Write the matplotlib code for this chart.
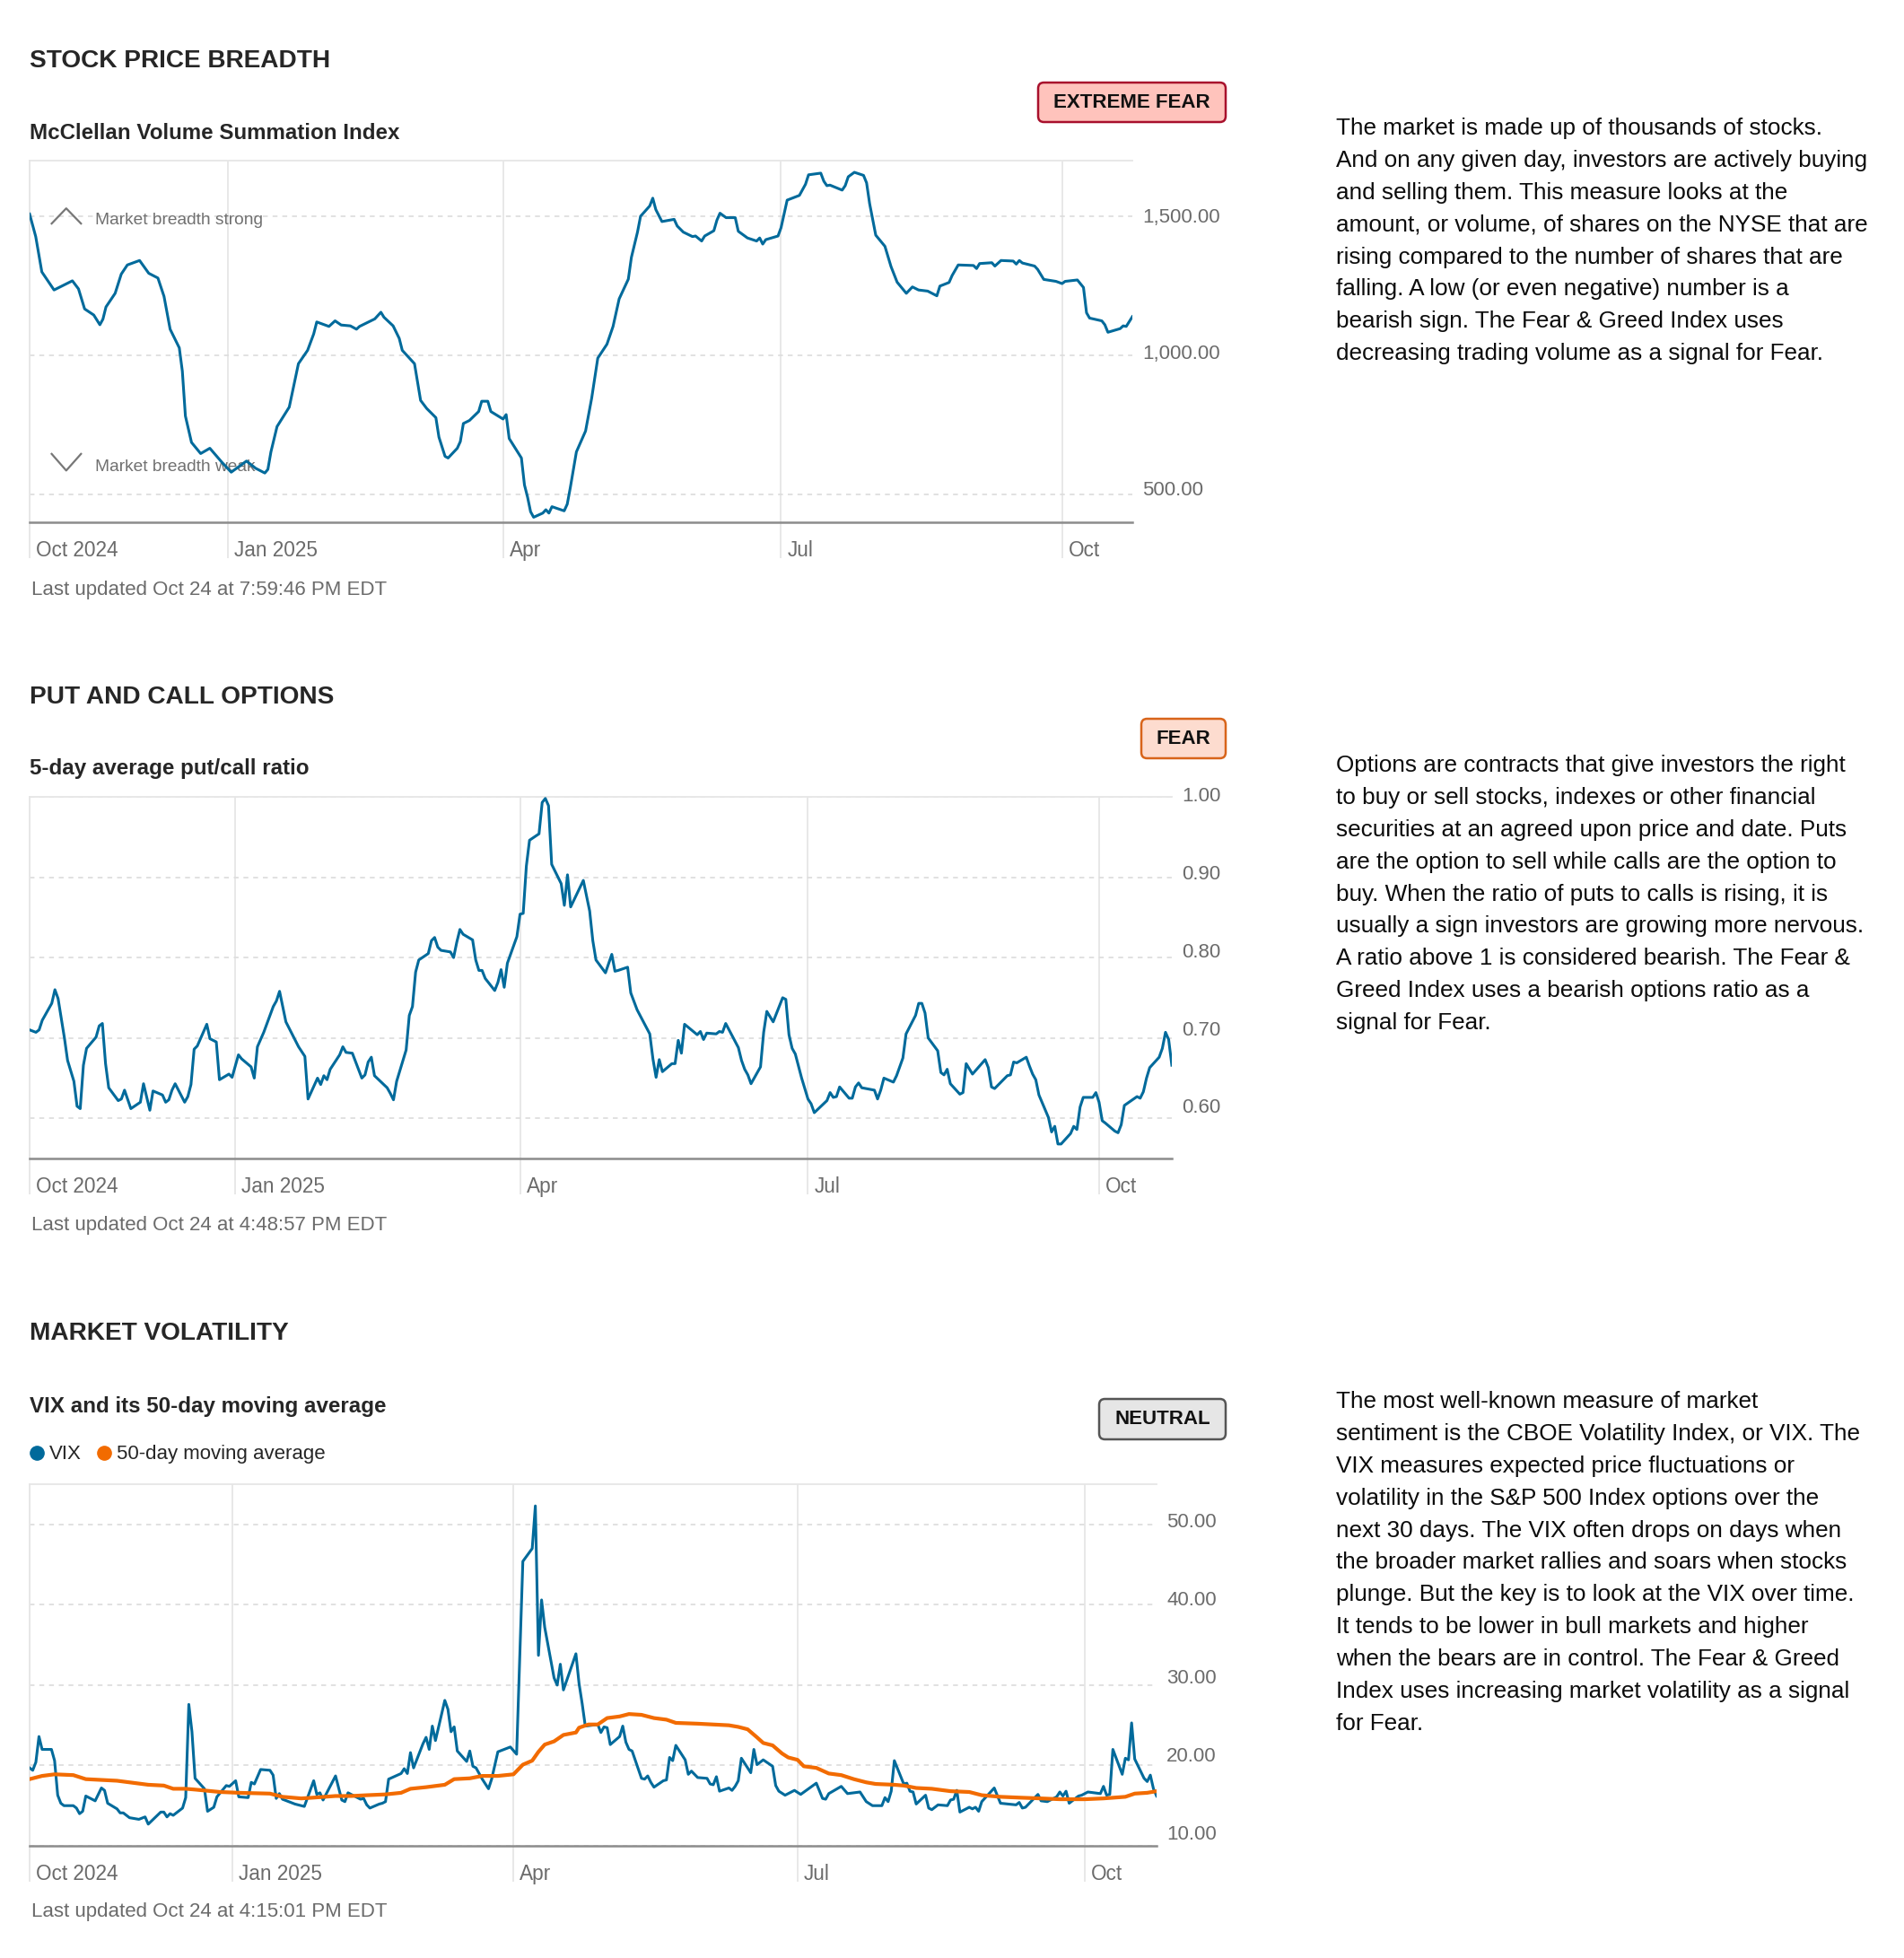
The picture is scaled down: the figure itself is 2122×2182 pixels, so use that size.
import matplotlib
matplotlib.use("Agg")
import matplotlib.pyplot as plt
import matplotlib.transforms as mtransforms
from matplotlib.patches import FancyBboxPatch
from matplotlib.lines import Line2D
from matplotlib.ticker import FuncFormatter
import pandas as pd

plt.rcParams['font.family'] = ['Liberation Sans', 'DejaVu Sans']

# ---- data ----
breadth_dates = [
    "2024-10-28", "2024-10-30", "2024-11-01", "2024-11-05", "2024-11-11", "2024-11-13", "2024-11-15",
    "2024-11-18", "2024-11-20", "2024-11-21", "2024-11-22", "2024-11-25", "2024-11-27", "2024-11-29",
    "2024-12-03", "2024-12-06", "2024-12-09", "2024-12-11", "2024-12-13", "2024-12-16", "2024-12-17",
    "2024-12-18", "2024-12-20", "2024-12-23", "2024-12-26", "2024-12-30", "2025-01-02", "2025-01-07",
    "2025-01-10", "2025-01-13", "2025-01-14", "2025-01-15", "2025-01-17", "2025-01-21", "2025-01-24",
    "2025-01-27", "2025-01-29", "2025-01-30", "2025-02-03", "2025-02-05", "2025-02-07", "2025-02-10",
    "2025-02-12", "2025-02-13", "2025-02-18", "2025-02-20", "2025-02-21", "2025-02-24", "2025-02-26",
    "2025-02-27", "2025-03-03", "2025-03-04", "2025-03-05", "2025-03-07", "2025-03-10", "2025-03-11",
    "2025-03-13", "2025-03-14", "2025-03-17", "2025-03-18", "2025-03-19", "2025-03-21", "2025-03-24",
    "2025-03-25", "2025-03-27", "2025-03-28", "2025-04-01", "2025-04-02", "2025-04-03", "2025-04-07",
    "2025-04-08", "2025-04-09", "2025-04-10", "2025-04-11", "2025-04-14", "2025-04-15", "2025-04-16",
    "2025-04-17", "2025-04-21", "2025-04-22", "2025-04-23", "2025-04-25", "2025-04-28", "2025-04-30",
    "2025-05-02", "2025-05-05", "2025-05-07", "2025-05-09", "2025-05-12", "2025-05-13", "2025-05-15",
    "2025-05-16", "2025-05-19", "2025-05-20", "2025-05-21", "2025-05-23", "2025-05-27", "2025-05-28",
    "2025-05-30", "2025-06-02", "2025-06-03", "2025-06-05", "2025-06-06", "2025-06-09", "2025-06-10",
    "2025-06-11", "2025-06-13", "2025-06-16", "2025-06-17", "2025-06-20", "2025-06-23", "2025-06-24",
    "2025-06-25", "2025-06-26", "2025-06-30", "2025-07-01", "2025-07-03", "2025-07-07", "2025-07-09",
    "2025-07-10", "2025-07-14", "2025-07-15", "2025-07-16", "2025-07-17", "2025-07-21", "2025-07-22",
    "2025-07-23", "2025-07-25", "2025-07-28", "2025-07-29", "2025-07-30", "2025-08-01", "2025-08-04",
    "2025-08-06", "2025-08-08", "2025-08-11", "2025-08-13", "2025-08-15", "2025-08-18", "2025-08-21",
    "2025-08-22", "2025-08-25", "2025-08-26", "2025-08-28", "2025-09-02", "2025-09-03", "2025-09-04",
    "2025-09-08", "2025-09-09", "2025-09-11", "2025-09-15", "2025-09-16", "2025-09-17", "2025-09-18",
    "2025-09-22", "2025-09-23", "2025-09-25", "2025-09-29", "2025-10-01", "2025-10-02", "2025-10-06",
    "2025-10-08", "2025-10-09", "2025-10-10", "2025-10-14", "2025-10-15", "2025-10-16", "2025-10-20",
    "2025-10-21", "2025-10-22", "2025-10-24",
]
breadth_values = [
    1508, 1427, 1300, 1235, 1268, 1239, 1167,
    1145, 1110, 1130, 1174, 1223, 1292, 1325,
    1341, 1295, 1278, 1212, 1094, 1027, 943,
    782, 687, 647, 666, 615, 580, 620,
    594, 577, 590, 653, 744, 814, 970,
    1018, 1077, 1120, 1104, 1124, 1109, 1106,
    1094, 1104, 1131, 1155, 1137, 1106, 1061,
    1018, 970, 905, 838, 809, 776, 706,
    637, 631, 666, 690, 755, 766, 798,
    835, 835, 798, 771, 787, 701, 631,
    534, 491, 438, 418, 433, 445, 433,
    456, 441, 465, 524, 653, 728, 846,
    990, 1040, 1104, 1203, 1274, 1352, 1443,
    1500, 1537, 1565, 1524, 1481, 1489, 1465,
    1443, 1427, 1429, 1411, 1429, 1448, 1486,
    1511, 1495, 1495, 1446, 1422, 1411, 1422,
    1400, 1416, 1429, 1459, 1558, 1575, 1615,
    1649, 1655, 1626, 1610, 1612, 1594, 1610,
    1642, 1658, 1647, 1620, 1545, 1432, 1392,
    1319, 1263, 1223, 1246, 1235, 1231, 1214,
    1249, 1262, 1287, 1325, 1323, 1312, 1330,
    1333, 1321, 1341, 1339, 1328, 1341, 1332,
    1321, 1309, 1273, 1266, 1258, 1266, 1271,
    1244, 1153, 1134, 1124, 1110, 1083, 1096,
    1106, 1104, 1139,
]

putcall_dates = [
    "2024-10-28", "2024-10-30", "2024-10-31", "2024-11-01", "2024-11-04", "2024-11-05", "2024-11-06",
    "2024-11-08", "2024-11-09", "2024-11-11", "2024-11-12", "2024-11-13", "2024-11-14", "2024-11-15",
    "2024-11-18", "2024-11-19", "2024-11-20", "2024-11-21", "2024-11-22", "2024-11-25", "2024-11-26",
    "2024-11-27", "2024-11-29", "2024-12-02", "2024-12-03", "2024-12-05", "2024-12-06", "2024-12-09",
    "2024-12-10", "2024-12-11", "2024-12-12", "2024-12-13", "2024-12-16", "2024-12-17", "2024-12-18",
    "2024-12-19", "2024-12-20", "2024-12-23", "2024-12-24", "2024-12-26", "2024-12-27", "2024-12-30",
    "2024-12-31", "2025-01-02", "2025-01-03", "2025-01-06", "2025-01-07", "2025-01-08", "2025-01-10",
    "2025-01-13", "2025-01-14", "2025-01-15", "2025-01-17", "2025-01-21", "2025-01-23", "2025-01-24",
    "2025-01-27", "2025-01-28", "2025-01-29", "2025-01-30", "2025-01-31", "2025-02-03", "2025-02-04",
    "2025-02-05", "2025-02-07", "2025-02-10", "2025-02-11", "2025-02-12", "2025-02-13", "2025-02-14",
    "2025-02-18", "2025-02-19", "2025-02-20", "2025-02-21", "2025-02-24", "2025-02-25", "2025-02-26",
    "2025-02-27", "2025-02-28", "2025-03-03", "2025-03-04", "2025-03-05", "2025-03-06", "2025-03-07",
    "2025-03-10", "2025-03-11", "2025-03-12", "2025-03-13", "2025-03-14", "2025-03-17", "2025-03-18",
    "2025-03-19", "2025-03-20", "2025-03-21", "2025-03-24", "2025-03-25", "2025-03-26", "2025-03-27",
    "2025-03-28", "2025-03-31", "2025-04-01", "2025-04-02", "2025-04-03", "2025-04-04", "2025-04-07",
    "2025-04-08", "2025-04-09", "2025-04-10", "2025-04-11", "2025-04-14", "2025-04-15", "2025-04-16",
    "2025-04-17", "2025-04-21", "2025-04-23", "2025-04-24", "2025-04-25", "2025-04-28", "2025-04-30",
    "2025-05-01", "2025-05-02", "2025-05-05", "2025-05-06", "2025-05-08", "2025-05-12", "2025-05-13",
    "2025-05-14", "2025-05-15", "2025-05-16", "2025-05-19", "2025-05-20", "2025-05-21", "2025-05-22",
    "2025-05-23", "2025-05-27", "2025-05-28", "2025-05-29", "2025-05-30", "2025-06-02", "2025-06-03",
    "2025-06-04", "2025-06-05", "2025-06-09", "2025-06-10", "2025-06-11", "2025-06-12", "2025-06-13",
    "2025-06-16", "2025-06-17", "2025-06-18", "2025-06-20", "2025-06-23", "2025-06-24", "2025-06-25",
    "2025-06-26", "2025-06-27", "2025-06-29", "2025-07-01", "2025-07-02", "2025-07-03", "2025-07-07",
    "2025-07-08", "2025-07-09", "2025-07-10", "2025-07-11", "2025-07-14", "2025-07-15", "2025-07-16",
    "2025-07-17", "2025-07-18", "2025-07-22", "2025-07-23", "2025-07-24", "2025-07-25", "2025-07-28",
    "2025-07-29", "2025-07-31", "2025-08-01", "2025-08-04", "2025-08-05", "2025-08-06", "2025-08-07",
    "2025-08-08", "2025-08-11", "2025-08-12", "2025-08-13", "2025-08-14", "2025-08-15", "2025-08-18",
    "2025-08-19", "2025-08-20", "2025-08-22", "2025-08-26", "2025-08-27", "2025-08-28", "2025-08-29",
    "2025-09-02", "2025-09-03", "2025-09-04", "2025-09-05", "2025-09-08", "2025-09-09", "2025-09-10",
    "2025-09-11", "2025-09-12", "2025-09-15", "2025-09-16", "2025-09-17", "2025-09-18", "2025-09-19",
    "2025-09-22", "2025-09-23", "2025-09-24", "2025-09-25", "2025-09-26", "2025-09-29", "2025-09-30",
    "2025-10-01", "2025-10-02", "2025-10-03", "2025-10-06", "2025-10-07", "2025-10-08", "2025-10-09",
    "2025-10-13", "2025-10-14", "2025-10-15", "2025-10-16", "2025-10-17", "2025-10-20", "2025-10-21",
    "2025-10-22", "2025-10-23", "2025-10-24",
]
putcall_values = [
    0.710, 0.707, 0.710, 0.722, 0.743, 0.760, 0.749,
    0.700, 0.672, 0.646, 0.615, 0.612, 0.666, 0.687,
    0.701, 0.715, 0.718, 0.668, 0.638, 0.622, 0.624,
    0.635, 0.612, 0.620, 0.643, 0.610, 0.634, 0.629,
    0.620, 0.623, 0.635, 0.643, 0.620, 0.627, 0.642,
    0.686, 0.690, 0.717, 0.699, 0.695, 0.648, 0.655,
    0.651, 0.679, 0.674, 0.664, 0.650, 0.689, 0.707,
    0.739, 0.746, 0.758, 0.720, 0.689, 0.677, 0.624,
    0.650, 0.642, 0.653, 0.648, 0.661, 0.679, 0.689,
    0.682, 0.681, 0.650, 0.654, 0.670, 0.676, 0.653,
    0.638, 0.631, 0.623, 0.646, 0.685, 0.728, 0.739,
    0.782, 0.797, 0.805, 0.821, 0.825, 0.813, 0.809,
    0.807, 0.800, 0.819, 0.835, 0.829, 0.822, 0.797,
    0.784, 0.784, 0.774, 0.759, 0.769, 0.785, 0.763,
    0.793, 0.826, 0.854, 0.855, 0.914, 0.946, 0.954,
    0.993, 0.998, 0.989, 0.916, 0.892, 0.865, 0.903,
    0.863, 0.896, 0.858, 0.821, 0.797, 0.781, 0.804,
    0.783, 0.784, 0.788, 0.756, 0.735, 0.705, 0.674,
    0.651, 0.673, 0.658, 0.668, 0.668, 0.697, 0.681,
    0.717, 0.704, 0.708, 0.698, 0.706, 0.705, 0.708,
    0.707, 0.718, 0.688, 0.672, 0.661, 0.654, 0.643,
    0.664, 0.707, 0.733, 0.720, 0.750, 0.748, 0.704,
    0.687, 0.680, 0.650, 0.624, 0.618, 0.607, 0.622,
    0.632, 0.626, 0.627, 0.639, 0.625, 0.625, 0.639,
    0.644, 0.638, 0.635, 0.624, 0.635, 0.650, 0.645,
    0.653, 0.675, 0.705, 0.728, 0.743, 0.743, 0.731,
    0.700, 0.684, 0.657, 0.654, 0.661, 0.643, 0.630,
    0.632, 0.668, 0.655, 0.673, 0.663, 0.639, 0.637,
    0.653, 0.654, 0.670, 0.669, 0.676, 0.665, 0.655,
    0.648, 0.629, 0.601, 0.583, 0.590, 0.568, 0.568,
    0.581, 0.590, 0.586, 0.614, 0.626, 0.626, 0.632,
    0.620, 0.597, 0.594, 0.584, 0.582, 0.592, 0.616,
    0.627, 0.625, 0.633, 0.650, 0.663, 0.676, 0.687,
    0.707, 0.698, 0.666,
]

vix_dates = [
    "2024-10-28", "2024-10-29", "2024-10-30", "2024-10-31", "2024-11-01", "2024-11-04", "2024-11-05",
    "2024-11-06", "2024-11-07", "2024-11-08", "2024-11-11", "2024-11-12", "2024-11-13", "2024-11-14",
    "2024-11-15", "2024-11-18", "2024-11-20", "2024-11-21", "2024-11-22", "2024-11-25", "2024-11-26",
    "2024-11-27", "2024-11-29", "2024-12-02", "2024-12-04", "2024-12-05", "2024-12-09", "2024-12-10",
    "2024-12-11", "2024-12-12", "2024-12-13", "2024-12-16", "2024-12-17", "2024-12-18", "2024-12-19",
    "2024-12-20", "2024-12-23", "2024-12-24", "2024-12-26", "2024-12-27", "2024-12-30", "2024-12-31",
    "2025-01-02", "2025-01-03", "2025-01-06", "2025-01-07", "2025-01-08", "2025-01-10", "2025-01-13",
    "2025-01-14", "2025-01-15", "2025-01-16", "2025-01-17", "2025-01-21", "2025-01-24", "2025-01-27",
    "2025-01-28", "2025-01-29", "2025-01-30", "2025-02-03", "2025-02-05", "2025-02-06", "2025-02-07",
    "2025-02-10", "2025-02-11", "2025-02-12", "2025-02-13", "2025-02-14", "2025-02-17", "2025-02-18",
    "2025-02-19", "2025-02-20", "2025-02-24", "2025-02-25", "2025-02-26", "2025-02-27", "2025-02-28",
    "2025-03-03", "2025-03-04", "2025-03-05", "2025-03-06", "2025-03-07", "2025-03-10", "2025-03-11",
    "2025-03-12", "2025-03-13", "2025-03-14", "2025-03-17", "2025-03-18", "2025-03-19", "2025-03-20",
    "2025-03-22", "2025-03-24", "2025-03-25", "2025-03-27", "2025-03-31", "2025-04-02", "2025-04-04",
    "2025-04-07", "2025-04-08", "2025-04-09", "2025-04-10", "2025-04-11", "2025-04-14", "2025-04-15",
    "2025-04-16", "2025-04-17", "2025-04-21", "2025-04-22", "2025-04-23", "2025-04-24", "2025-04-28",
    "2025-04-29", "2025-04-30", "2025-05-01", "2025-05-02", "2025-05-05", "2025-05-06", "2025-05-07",
    "2025-05-08", "2025-05-09", "2025-05-12", "2025-05-13", "2025-05-14", "2025-05-15", "2025-05-16",
    "2025-05-19", "2025-05-20", "2025-05-21", "2025-05-22", "2025-05-23", "2025-05-26", "2025-05-27",
    "2025-05-28", "2025-05-30", "2025-06-02", "2025-06-03", "2025-06-04", "2025-06-05", "2025-06-06",
    "2025-06-09", "2025-06-10", "2025-06-11", "2025-06-12", "2025-06-13", "2025-06-16", "2025-06-17",
    "2025-06-18", "2025-06-20", "2025-06-23", "2025-06-24", "2025-06-25", "2025-06-27", "2025-06-30",
    "2025-07-02", "2025-07-07", "2025-07-09", "2025-07-10", "2025-07-11", "2025-07-15", "2025-07-17",
    "2025-07-21", "2025-07-23", "2025-07-25", "2025-07-28", "2025-07-29", "2025-07-30", "2025-07-31",
    "2025-08-01", "2025-08-04", "2025-08-05", "2025-08-06", "2025-08-07", "2025-08-08", "2025-08-11",
    "2025-08-12", "2025-08-13", "2025-08-15", "2025-08-18", "2025-08-19", "2025-08-20", "2025-08-21",
    "2025-08-22", "2025-08-25", "2025-08-26", "2025-08-27", "2025-08-28", "2025-08-29", "2025-09-02",
    "2025-09-04", "2025-09-09", "2025-09-10", "2025-09-11", "2025-09-12", "2025-09-16", "2025-09-17",
    "2025-09-19", "2025-09-22", "2025-09-23", "2025-09-24", "2025-09-25", "2025-09-26", "2025-09-29",
    "2025-09-30", "2025-10-02", "2025-10-06", "2025-10-07", "2025-10-08", "2025-10-09", "2025-10-10",
    "2025-10-13", "2025-10-14", "2025-10-15", "2025-10-16", "2025-10-17", "2025-10-20", "2025-10-21",
    "2025-10-22", "2025-10-23", "2025-10-24",
]
vix_values = [
    19.7, 19.4, 20.4, 23.6, 22.0, 22.0, 20.6,
    16.3, 15.3, 15.0, 15.0, 14.7, 14.0, 14.3,
    16.2, 15.6, 17.2, 16.9, 15.3, 14.6, 14.1,
    14.1, 13.5, 13.3, 13.6, 12.7, 14.2, 14.2,
    13.6, 14.0, 13.8, 14.7, 16.0, 27.6, 24.2,
    18.4, 17.1, 14.3, 14.8, 16.1, 17.5, 17.4,
    18.1, 16.1, 16.0, 17.9, 17.7, 19.5, 19.4,
    18.8, 15.9, 16.5, 15.8, 15.2, 14.9, 18.1,
    16.4, 16.6, 15.7, 18.7, 15.7, 15.5, 16.6,
    16.0, 15.8, 15.9, 15.1, 14.7, 15.2, 15.3,
    15.5, 18.3, 19.0, 19.6, 19.0, 21.6, 19.7,
    22.7, 23.5, 22.0, 24.9, 23.1, 28.1, 27.0,
    24.2, 24.8, 21.8, 20.5, 21.8, 19.9, 19.7,
    18.3, 17.1, 18.3, 21.7, 22.3, 21.4, 45.4,
    47.0, 52.3, 33.7, 40.6, 37.2, 30.9, 30.0,
    32.6, 29.4, 33.9, 30.2, 27.7, 24.9, 25.1,
    24.1, 24.8, 24.7, 22.6, 23.6, 24.9, 22.9,
    22.0, 21.8, 18.4, 18.3, 18.7, 17.9, 17.3,
    18.1, 18.2, 21.0, 20.6, 22.5, 20.7, 18.9,
    19.3, 18.5, 18.4, 17.7, 17.6, 18.6, 16.8,
    17.2, 16.9, 17.4, 18.1, 20.9, 19.1, 22.0,
    20.1, 20.7, 19.9, 17.5, 16.8, 16.3, 16.9,
    16.4, 17.8, 15.9, 15.8, 16.5, 17.4, 16.5,
    16.7, 15.5, 15.0, 15.0, 16.0, 15.5, 16.8,
    20.6, 17.7, 17.8, 16.8, 16.7, 15.2, 16.3,
    14.7, 14.5, 15.1, 15.0, 15.7, 15.8, 16.9,
    14.2, 14.8, 14.6, 14.8, 14.3, 15.5, 17.2,
    15.3, 15.1, 15.4, 14.7, 14.8, 16.4, 15.6,
    15.5, 16.1, 16.7, 16.2, 16.8, 15.3, 16.2,
    16.3, 16.7, 16.5, 17.4, 16.3, 16.4, 22.0,
    18.9, 20.9, 20.7, 25.3, 20.8, 18.4, 18.0,
    18.8, 17.1, 16.2,
]

ma_dates = [
    "2024-10-28", "2024-11-01", "2024-11-05", "2024-11-11", "2024-11-15", "2024-11-25", "2024-11-29",
    "2024-12-05", "2024-12-10", "2024-12-13", "2024-12-17", "2024-12-20", "2024-12-28", "2025-01-03",
    "2025-01-13", "2025-01-17", "2025-01-23", "2025-01-27", "2025-02-03", "2025-02-08", "2025-02-13",
    "2025-02-19", "2025-02-24", "2025-02-27", "2025-03-04", "2025-03-10", "2025-03-13", "2025-03-18",
    "2025-03-22", "2025-03-27", "2025-04-01", "2025-04-02", "2025-04-04", "2025-04-07", "2025-04-09",
    "2025-04-11", "2025-04-14", "2025-04-17", "2025-04-21", "2025-04-22", "2025-04-25", "2025-04-28",
    "2025-05-01", "2025-05-05", "2025-05-08", "2025-05-12", "2025-05-16", "2025-05-20", "2025-05-23",
    "2025-05-30", "2025-06-09", "2025-06-12", "2025-06-15", "2025-06-18", "2025-06-20", "2025-06-23",
    "2025-06-26", "2025-06-28", "2025-07-01", "2025-07-03", "2025-07-07", "2025-07-11", "2025-07-15",
    "2025-07-19", "2025-07-23", "2025-07-26", "2025-08-01", "2025-08-04", "2025-08-08", "2025-08-13",
    "2025-08-19", "2025-08-25", "2025-08-29", "2025-09-04", "2025-09-10", "2025-09-17", "2025-09-23",
    "2025-10-01", "2025-10-07", "2025-10-14", "2025-10-17", "2025-10-21", "2025-10-24",
]
ma_values = [
    18.3, 18.7, 18.9, 18.8, 18.3, 18.1, 17.9,
    17.6, 17.5, 17.1, 17.1, 17.0, 16.7, 16.6,
    16.5, 16.1, 15.9, 16.0, 16.2, 16.2, 16.3,
    16.4, 16.6, 17.1, 17.3, 17.6, 18.3, 18.4,
    18.7, 18.7, 18.9, 19.3, 20.1, 20.6, 21.7,
    22.6, 23.0, 23.8, 24.1, 24.7, 25.1, 25.1,
    25.9, 26.1, 26.4, 26.3, 25.9, 25.7, 25.3,
    25.2, 25.0, 24.8, 24.5, 23.5, 22.8, 22.5,
    21.5, 21.0, 20.7, 19.9, 19.7, 19.0, 18.8,
    18.3, 17.9, 17.7, 17.6, 17.5, 17.2, 17.1,
    16.8, 16.7, 16.3, 16.1, 16.0, 15.9, 15.8,
    15.8, 15.9, 16.1, 16.5, 16.6, 16.8,
]

tick_dates = ["2024-10-28", "2025-01-01", "2025-04-01", "2025-07-01", "2025-10-01"]
tick_labels = ["Oct 2024", "Jan 2025", "Apr", "Jul", "Oct"]

breadth_text = [
    "The market is made up of thousands of stocks.",
    "And on any given day, investors are actively buying",
    "and selling them. This measure looks at the",
    "amount, or volume, of shares on the NYSE that are",
    "rising compared to the number of shares that are",
    "falling. A low (or even negative) number is a",
    "bearish sign. The Fear & Greed Index uses",
    "decreasing trading volume as a signal for Fear.",
]
options_text = [
    "Options are contracts that give investors the right",
    "to buy or sell stocks, indexes or other financial",
    "securities at an agreed upon price and date. Puts",
    "are the option to sell while calls are the option to",
    "buy. When the ratio of puts to calls is rising, it is",
    "usually a sign investors are growing more nervous.",
    "A ratio above 1 is considered bearish. The Fear &",
    "Greed Index uses a bearish options ratio as a",
    "signal for Fear.",
]
volatility_text = [
    "The most well-known measure of market",
    "sentiment is the CBOE Volatility Index, or VIX. The",
    "VIX measures expected price fluctuations or",
    "volatility in the S&P 500 Index options over the",
    "next 30 days. The VIX often drops on days when",
    "the broader market rallies and soars when stocks",
    "plunge. But the key is to look at the VIX over time.",
    "It tends to be lower in bull markets and higher",
    "when the bears are in control. The Fear & Greed",
    "Index uses increasing market volatility as a signal",
    "for Fear.",
]

# ---- layout ----
W, H = 2122, 2182
BLUE = '#006a9b'
ORANGE = '#f26b00'
GRID = '#e6e6e6'
GREY_TEXT = '#6b6b6b'
DARK = '#262626'

fig = plt.figure(figsize=(W / 100, H / 100), dpi=100)


def fx(x):
    return x / W


def fy(y):
    return 1 - y / H


def px_axes(left, top, right, bottom):
    return fig.add_axes([fx(left), fy(bottom), (right - left) / W, (bottom - top) / H])


def style_chart(ax, ylim, yticks, fmt, lift_base, lift_slope):
    start = pd.Timestamp("2024-10-28")
    end = pd.Timestamp("2025-10-24")
    ax.set_xlim(start, end)
    ax.set_ylim(*ylim)
    ax.set_yticks(yticks)
    ax.yaxis.set_major_formatter(FuncFormatter(lambda v, p: fmt.format(v)))
    ax.yaxis.tick_right()
    ax.tick_params(axis='y', length=0, pad=8, labelsize=16, labelcolor=GREY_TEXT)
    # value labels sit a little above their gridlines, more so lower down
    height_px = ax.get_position().height * H
    for v, lab in zip(yticks, ax.get_yticklabels()):
        dist = (ylim[1] - v) / (ylim[1] - ylim[0]) * height_px
        lift = lift_base + lift_slope * dist
        lab.set_transform(lab.get_transform() + mtransforms.ScaledTranslation(0, lift / 100, fig.dpi_scale_trans))
    ax.set_xticks(pd.to_datetime(tick_dates))
    ax.set_xticklabels(tick_labels)
    ax.tick_params(axis='x', length=29, width=1.3, color=GRID, pad=-14.4,
                   labelsize=16.3, labelcolor=GREY_TEXT)
    offset = mtransforms.ScaledTranslation(7 / 100, 0, fig.dpi_scale_trans)
    for lab in ax.get_xticklabels():
        lab.set_horizontalalignment('left')
        lab.set_transform(lab.get_transform() + offset)
    ax.xaxis.grid(True, color=GRID, lw=1.3)
    ax.yaxis.grid(True, color='#dedede', lw=1.3, ls=(0, (3, 3)))
    ax.set_axisbelow(True)
    ax.spines['right'].set_visible(False)
    ax.spines['left'].set_color(GRID)
    ax.spines['left'].set_linewidth(1.3)
    ax.spines['top'].set_color(GRID)
    ax.spines['top'].set_linewidth(1.3)
    ax.spines['bottom'].set_color('#8c8c8c')
    ax.spines['bottom'].set_linewidth(1.8)


def badge(text, left, top, right, bottom, face, edge):
    box = FancyBboxPatch((fx(left), fy(bottom)), (right - left) / W, (bottom - top) / H,
                         boxstyle='round,pad=0,rounding_size=0.003',
                         transform=fig.transFigure, facecolor=face, edgecolor=edge, lw=1.8)
    fig.add_artist(box)
    fig.text(fx((left + right) / 2), fy((top + bottom) / 2), text, ha='center', va='center',
             fontsize=16, fontweight='bold', color='#111111')


def paragraph(lines, x, first_baseline, pitch=35.9):
    for i, line in enumerate(lines):
        fig.text(fx(x), fy(first_baseline + i * pitch), line, ha='left', va='baseline',
                 fontsize=18.8, color='#0c0c0c')


# ---- headings ----
fig.text(fx(33), fy(75), "STOCK PRICE BREADTH", fontsize=20.2, fontweight='bold', color=DARK, va='baseline')
fig.text(fx(33), fy(155), "McClellan Volume Summation Index", fontsize=17.4, fontweight='bold', color=DARK, va='baseline')
fig.text(fx(35), fy(663), "Last updated Oct 24 at 7:59:46 PM EDT", fontsize=16, color=GREY_TEXT, va='baseline')

fig.text(fx(33), fy(784), "PUT AND CALL OPTIONS", fontsize=20.2, fontweight='bold', color=DARK, va='baseline')
fig.text(fx(33), fy(863), "5-day average put/call ratio", fontsize=17.4, fontweight='bold', color=DARK, va='baseline')
fig.text(fx(35), fy(1371), "Last updated Oct 24 at 4:48:57 PM EDT", fontsize=16, color=GREY_TEXT, va='baseline')

fig.text(fx(33), fy(1493), "MARKET VOLATILITY", fontsize=20.2, fontweight='bold', color=DARK, va='baseline')
fig.text(fx(33), fy(1574), "VIX and its 50-day moving average", fontsize=17.4, fontweight='bold', color=DARK, va='baseline')
fig.text(fx(35), fy(2136), "Last updated Oct 24 at 4:15:01 PM EDT", fontsize=16, color=GREY_TEXT, va='baseline')

badge("EXTREME FEAR", 1157, 92, 1366, 136, '#ffc3bc', '#a8102c')
badge("FEAR", 1272, 801, 1366, 845, '#fddccf', '#d8641a')
badge("NEUTRAL", 1225, 1559, 1366, 1604, '#e6e6e6', '#555555')

paragraph(breadth_text, 1489, 150)
paragraph(options_text, 1489, 860)
paragraph(volatility_text, 1489, 1569)

# ---- chart 1: McClellan ----
ax1 = px_axes(33, 179, 1262, 582)
style_chart(ax1, (400, 1700), [500, 1000, 1500], "{:,.2f}", 0.0, 0.02)
ax1.plot(pd.to_datetime(breadth_dates), breadth_values, color=BLUE, lw=2.2, zorder=3)
ax1.plot([0.020, 0.0332, 0.0466], [0.826, 0.868, 0.826], transform=ax1.transAxes,
         color='#777777', lw=1.6, zorder=2)
ax1.plot([0.020, 0.0332, 0.0466], [0.189, 0.143, 0.189], transform=ax1.transAxes,
         color='#777777', lw=1.6, zorder=2)
ax1.text(0.0597, 0.836, "Market breadth strong", transform=ax1.transAxes, fontsize=13.8,
         color='#707070', va='center', zorder=1)
ax1.text(0.0597, 0.152, "Market breadth weak", transform=ax1.transAxes, fontsize=13.8,
         color='#707070', va='center', zorder=1)

# ---- chart 2: put/call ----
ax2 = px_axes(33, 888, 1306, 1291)
style_chart(ax2, (0.55, 1.0), [0.6, 0.7, 0.8, 0.9, 1.0], "{:.2f}", 2.8, 0.031)
ax2.plot(pd.to_datetime(putcall_dates), putcall_values, color=BLUE, lw=2.2, zorder=3)

# ---- chart 3: VIX ----
ax3 = px_axes(33, 1654, 1289, 2057)
style_chart(ax3, (10, 55), [10, 20, 30, 40, 50], "{:.2f}", 3.0, 0.03)
ax3.plot(pd.to_datetime(vix_dates), vix_values, color=BLUE, lw=2.2, zorder=3)
ax3.plot(pd.to_datetime(ma_dates), ma_values, color=ORANGE, lw=3.0, zorder=4)
handles = [Line2D([], [], ls='', marker='o', ms=11, color=BLUE),
           Line2D([], [], ls='', marker='o', ms=11, color=ORANGE)]
ax3.legend(handles, ['VIX', '50-day moving average'], loc='center left',
           bbox_to_anchor=(0.0, 1.082), frameon=False, ncol=2, fontsize=16,
           handlelength=0.7, handletextpad=0.3, columnspacing=0.75,
           borderpad=0, borderaxespad=0, labelcolor=DARK)

fig.savefig("out.png", dpi=100)
